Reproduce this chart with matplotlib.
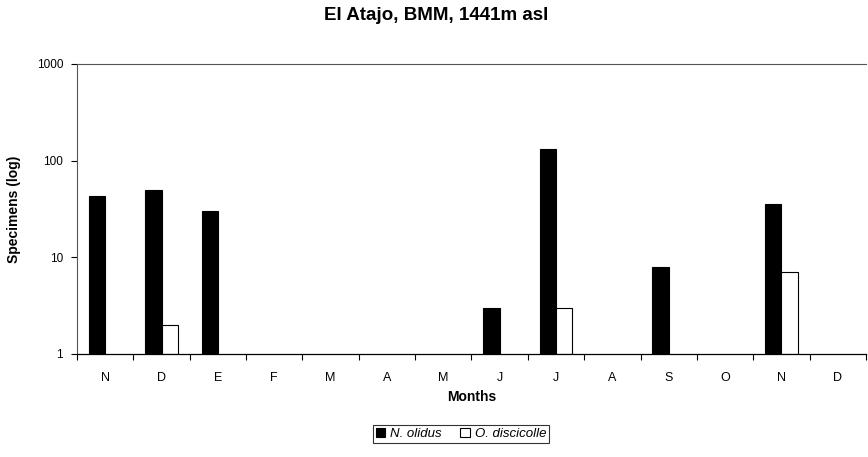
import matplotlib
matplotlib.use("Agg")
import matplotlib.pyplot as plt
from matplotlib.patches import Patch
import numpy as np

plt.rcParams['font.family'] = ['Liberation Sans', 'DejaVu Sans']

months = ["N", "D", "E", "F", "M", "A", "M", "J", "J", "A", "S", "O", "N", "D"]
n_olidus = [43, 50, 30, 0, 0, 0, 0, 3, 133, 0, 8, 0, 36, 0]
o_discicolle = [0, 2, 0, 0, 0, 0, 0, 0, 3, 0, 0, 0, 7, 0]

x = np.arange(len(months))
w = 0.29

fig = plt.figure(figsize=(8.68, 4.57), dpi=100)
ax = fig.add_axes([0.0887, 0.2254, 0.909, 0.6346])

def draw(vals, offset, color):
    vals = np.array(vals, dtype=float)
    keep = vals > 0
    ax.bar(x[keep] + offset, vals[keep] - 1, bottom=1, width=w,
           color=color, edgecolor="black", linewidth=0.8)

draw(n_olidus, -w / 2, "black")
draw(o_discicolle, w / 2, "white")

ax.set_yscale("log")
ax.set_ylim(1, 1000)
ax.set_xlim(-0.5, len(months) - 0.5)
ax.set_yticks([1, 10, 100, 1000])
ax.set_yticklabels(["1", "10", "100", "1000"])
ax.yaxis.set_minor_locator(matplotlib.ticker.NullLocator())
ax.tick_params(axis="y", which="major", length=4, width=0.8, pad=6, labelsize=8.5)

ax.set_xticks(x)
ax.set_xticklabels(months)
ax.set_xticks(np.arange(len(months) + 1) - 0.5, minor=True)
ax.tick_params(axis="x", which="major", length=0, pad=13, labelsize=9)
ax.tick_params(axis="x", which="minor", length=4, width=0.8)

ax.spines["right"].set_visible(False)
ax.spines["top"].set_color("#555555")
ax.spines["top"].set_linewidth(0.8)
ax.spines["left"].set_color("#555555")
ax.spines["left"].set_linewidth(0.8)
ax.spines["bottom"].set_linewidth(0.9)

ax.set_xlabel("Months", fontsize=10, fontweight="bold", labelpad=4)
ax.set_ylabel("Specimens (log)", fontsize=10, fontweight="bold", labelpad=11)

fig.text(0.503, 1 - 15 / 457, "El Atajo, BMM, 1441m asl", ha="center", va="center",
         fontsize=13.5, fontweight="bold")

handles = [Patch(facecolor="black", edgecolor="black", linewidth=0.8),
           Patch(facecolor="white", edgecolor="black", linewidth=0.8)]
leg = fig.legend(handles, ["N. olidus", "O. discicolle"], loc="center",
                 bbox_to_anchor=(461 / 868, 1 - 434 / 457), ncol=2,
                 prop={"size": 9.5, "style": "italic"}, frameon=True, fancybox=False,
                 handlelength=0.7, handleheight=0.7, handletextpad=0.4,
                 columnspacing=1.4, borderpad=0.2, borderaxespad=0)
leg.get_frame().set_edgecolor("black")
leg.get_frame().set_linewidth(0.8)

fig.savefig("out.png", dpi=100)
